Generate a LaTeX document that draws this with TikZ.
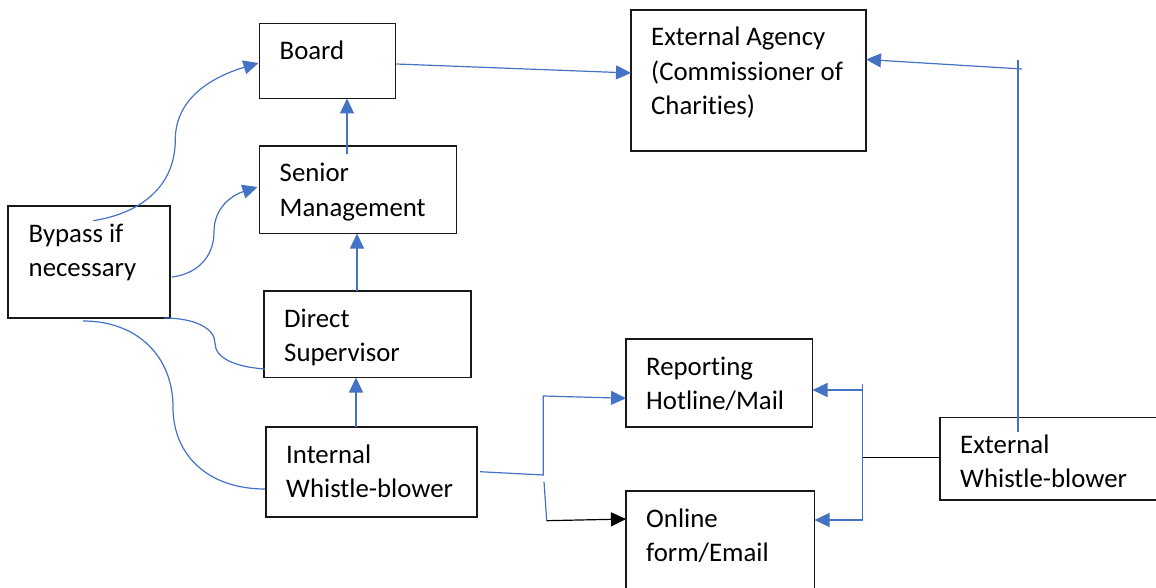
\documentclass[tikz,border=0pt]{standalone}
\usepackage{fontspec}
\setmainfont{Carlito}[Ligatures={NoCommon}]
\usetikzlibrary{arrows.meta,calc}
\definecolor{linkblue}{HTML}{4472C4}
% stacked lines of box text, baseline on the first line
\newcommand\stacktwo[2]{\vtop{\hbox{#1}\hbox{#2}}}
\newcommand\stackthree[3]{\vtop{\hbox{#1}\hbox{#2}\hbox{#3}}}

\begin{document}
\begin{tikzpicture}[x=1pt,y=-1pt,
  box/.style={draw=black!90, line width=1.3pt, inner sep=0pt, outer sep=0pt, anchor=north west},
  lbl/.style={anchor=base west, inner sep=0pt, font=\fontsize{26.8}{34.3}\selectfont},
  conn/.style={draw=linkblue, line width=1.2pt},
  arr/.style={conn, -{Triangle[length=15pt,width=14pt]}},
  karr/.style={draw=black, line width=1.2pt, -{Triangle[length=15pt,width=14pt]}},
]
\useasboundingbox (0,0) rectangle (1156,588);
\clip (0,0) rectangle (1156,588);

% boxes
\node[box, minimum width=136pt, minimum height=75pt]   (board)    at (259.5,23.5) {};
\node[box, minimum width=235pt, minimum height=141pt]  (agency)   at (631,10) {};
\node[box, minimum width=197pt, minimum height=87.5pt] (senior)   at (259.5,146) {};
\node[box, minimum width=162pt, minimum height=112pt]  (bypass)   at (8,206) {};
\node[box, minimum width=207pt, minimum height=86.5pt] (direct)   at (264,291) {};
\node[box, minimum width=211pt, minimum height=90pt]   (internal) at (266,427) {};
\node[box, minimum width=186.5pt, minimum height=88pt] (hotline)  at (626,339) {};
\node[box, minimum width=188.5pt, minimum height=110pt](online)   at (626,491) {};
\node[box, minimum width=240pt, minimum height=82.5pt] (external) at (940,417.5) {};

% box texts
\node[lbl] (board-t)    at ($(board.north west)+(20,36)$)    {Board};
\node[lbl] (agency-t)   at ($(agency.north west)+(20,36)$)   {\stackthree{External Agency}{(Commissioner of}{Charities)}};
\node[lbl] (senior-t)   at ($(senior.north west)+(20,36)$)   {\stacktwo{Senior}{Management}};
\node[lbl] (bypass-t)   at ($(bypass.north west)+(20.5,36)$) {\stacktwo{Bypass if}{necessary}};
\node[lbl] (direct-t)   at ($(direct.north west)+(20,36)$)   {\stacktwo{Direct}{Supervisor}};
\node[lbl] (internal-t) at ($(internal.north west)+(20,36)$) {\stacktwo{Internal}{Whistle-blower}};
\node[lbl] (hotline-t)  at ($(hotline.north west)+(20,36)$)  {\stacktwo{Reporting}{Hotline/Mail}};
\node[lbl] (online-t)   at ($(online.north west)+(20,36)$)   {\stacktwo{Online}{form/Email}};
\node[lbl] (external-t) at ($(external.north west)+(20,36)$) {\stacktwo{External}{Whistle-blower}};

% internal escalation chain
\draw[arr] ($(internal.north west)+(90,0)$) -- ($(direct.south west)+(92,0)$);
\draw[arr] ($(direct.north west)+(93,0)$) -- ($(senior.south west)+(97.5,0)$);
\draw[arr] ($(senior.north west)+(87.5,8)$) -- ($(board.south west)+(87.5,0)$);
\draw[arr] ($(board.north east)+(1,40.5)$) -- ($(agency.north west)+(0,63)$);

% bypass routes
\draw[arr] ($(bypass.north west)+(85.3,14.7)$)
  .. controls +(50,-8) and +(0,45) .. ++(82,-81)
  .. controls +(0,-45) and +(-40,12) .. ($(board.north west)+(-1,39.5)$);
\draw[arr] ($(bypass.north east)+(2,71)$)
  .. controls +(25,-3) and +(0,25) .. ++(42,-45)
  .. controls +(0,-25) and +(-25,8) .. ($(senior.north west)+(-2,41)$);
\draw[conn] ($(bypass.south east)+(-6,0)$)
  .. controls +(30,0) and +(0,-15) .. ++(51,25)
  .. controls +(0,15) and +(-30,-2) .. ($(direct.north west)+(1,78)$);
\draw[conn] ($(bypass.south west)+(75,3)$)
  .. controls +(55,0) and +(0,-50) .. ++(90,86)
  .. controls +(0,50) and +(-55,0) .. ($(internal.north west)+(-1,62)$);

% internal whistle-blower to reporting channels
\draw[arr] ($(internal.north east)+(3,44.7)$) -- ++(63.3,3.3) -- ++(0,-79)
  -- ($(hotline.north west)+(0,59.3)$);
\draw[conn] ($(internal.north east)+(67,54.7)$) -- ++(2.7,39) coordinate (ob);
\draw[karr] (ob) -- ($(online.north west)+(0,28)$);

% external whistle-blower to reporting channels
\draw[black, line width=1.2pt] ($(external.north west)+(0,40)$) -- ++(-77.3,0);
\draw[conn] ($(hotline.north east)+(50.2,45)$) -- ++(0,136.7);
\draw[arr] ($(hotline.north east)+(50.2,51)$) -- ($(hotline.north east)+(0,51)$);
\draw[arr] ($(online.north east)+(48.2,29)$) -- ($(online.north east)+(0,29)$);

% external whistle-blower to external agency
\draw[conn] ($(external.north west)+(78,14.5)$) -- ($(agency.north east)+(152,50)$);
\draw[arr] ($(agency.north east)+(156,59)$) -- ($(agency.north east)+(0,49.5)$);
\end{tikzpicture}
\end{document}
